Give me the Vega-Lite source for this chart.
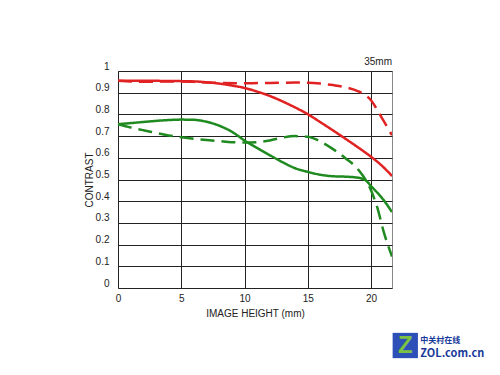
{
  "$schema": "https://vega.github.io/schema/vega-lite/v6.json",
  "width": 274,
  "height": 217,
  "autosize": "none",
  "padding": {"left": 118, "top": 71, "right": 108, "bottom": 87},
  "background": "white",
  "config": {
    "view": {"stroke": "#888888", "strokeWidth": 1},
    "font": "Liberation Sans",
    "axis": {"labelFont": "Liberation Sans", "titleFont": "Liberation Sans", "labelColor": "#222", "titleColor": "#222", "labelFontSize": 10, "titleFontSize": 10, "titleFontWeight": "normal", "grid": true, "gridColor": "#222", "gridOpacity": 1, "gridWidth": 1, "ticks": false, "domain": false, "labelFlush": false, "labelOverlap": false},
    "axisX": {"labelPadding": 5, "titlePadding": 5},
    "axisY": {"labelPadding": 9, "labelBaseline": "bottom", "titlePadding": 1}
  },
  "title": {"text": "35mm", "anchor": "end", "frame": "group", "fontSize": 10, "fontWeight": "normal", "color": "#222", "offset": -6, "font": "Liberation Sans"},
  "layer": [
    {
      "data": {"values": [
        {"curve": "R-S", "x": 0, "y": 0.955}, {"curve": "R-S", "x": 2, "y": 0.955}, {"curve": "R-S", "x": 4, "y": 0.954}, {"curve": "R-S", "x": 6, "y": 0.952}, {"curve": "R-S", "x": 7, "y": 0.948}, {"curve": "R-S", "x": 8, "y": 0.942}, {"curve": "R-S", "x": 9, "y": 0.933}, {"curve": "R-S", "x": 10, "y": 0.922}, {"curve": "R-S", "x": 11, "y": 0.905}, {"curve": "R-S", "x": 12, "y": 0.885}, {"curve": "R-S", "x": 13, "y": 0.86}, {"curve": "R-S", "x": 14, "y": 0.832}, {"curve": "R-S", "x": 15, "y": 0.801}, {"curve": "R-S", "x": 16, "y": 0.764}, {"curve": "R-S", "x": 17, "y": 0.726}, {"curve": "R-S", "x": 18, "y": 0.687}, {"curve": "R-S", "x": 19, "y": 0.647}, {"curve": "R-S", "x": 20, "y": 0.605}, {"curve": "R-S", "x": 21, "y": 0.556}, {"curve": "R-S", "x": 21.66, "y": 0.516},
        {"curve": "R-M", "x": 0, "y": 0.955}, {"curve": "R-M", "x": 1, "y": 0.952}, {"curve": "R-M", "x": 2, "y": 0.95}, {"curve": "R-M", "x": 3, "y": 0.951}, {"curve": "R-M", "x": 4, "y": 0.952}, {"curve": "R-M", "x": 5, "y": 0.952}, {"curve": "R-M", "x": 6, "y": 0.95}, {"curve": "R-M", "x": 7, "y": 0.947}, {"curve": "R-M", "x": 8, "y": 0.945}, {"curve": "R-M", "x": 10, "y": 0.944}, {"curve": "R-M", "x": 12, "y": 0.945}, {"curve": "R-M", "x": 13, "y": 0.946}, {"curve": "R-M", "x": 14, "y": 0.947}, {"curve": "R-M", "x": 15, "y": 0.946}, {"curve": "R-M", "x": 16, "y": 0.942}, {"curve": "R-M", "x": 17, "y": 0.935}, {"curve": "R-M", "x": 18, "y": 0.925}, {"curve": "R-M", "x": 19, "y": 0.906}, {"curve": "R-M", "x": 19.5, "y": 0.89}, {"curve": "R-M", "x": 20, "y": 0.865}, {"curve": "R-M", "x": 20.5, "y": 0.82}, {"curve": "R-M", "x": 21, "y": 0.77}, {"curve": "R-M", "x": 21.66, "y": 0.704},
        {"curve": "G-S", "x": 0, "y": 0.755}, {"curve": "G-S", "x": 1, "y": 0.76}, {"curve": "G-S", "x": 2, "y": 0.765}, {"curve": "G-S", "x": 3, "y": 0.77}, {"curve": "G-S", "x": 4, "y": 0.774}, {"curve": "G-S", "x": 5, "y": 0.776}, {"curve": "G-S", "x": 6, "y": 0.775}, {"curve": "G-S", "x": 7, "y": 0.766}, {"curve": "G-S", "x": 8, "y": 0.748}, {"curve": "G-S", "x": 9, "y": 0.72}, {"curve": "G-S", "x": 10, "y": 0.68}, {"curve": "G-S", "x": 11, "y": 0.645}, {"curve": "G-S", "x": 12, "y": 0.612}, {"curve": "G-S", "x": 13, "y": 0.58}, {"curve": "G-S", "x": 14, "y": 0.552}, {"curve": "G-S", "x": 15, "y": 0.535}, {"curve": "G-S", "x": 16, "y": 0.522}, {"curve": "G-S", "x": 17, "y": 0.515}, {"curve": "G-S", "x": 18, "y": 0.513}, {"curve": "G-S", "x": 19, "y": 0.508}, {"curve": "G-S", "x": 19.6, "y": 0.495}, {"curve": "G-S", "x": 20, "y": 0.47}, {"curve": "G-S", "x": 21, "y": 0.405}, {"curve": "G-S", "x": 21.66, "y": 0.35},
        {"curve": "G-M", "x": 0, "y": 0.755}, {"curve": "G-M", "x": 1, "y": 0.74}, {"curve": "G-M", "x": 2, "y": 0.727}, {"curve": "G-M", "x": 3, "y": 0.715}, {"curve": "G-M", "x": 4, "y": 0.703}, {"curve": "G-M", "x": 5, "y": 0.695}, {"curve": "G-M", "x": 6, "y": 0.688}, {"curve": "G-M", "x": 7, "y": 0.682}, {"curve": "G-M", "x": 8, "y": 0.677}, {"curve": "G-M", "x": 9, "y": 0.672}, {"curve": "G-M", "x": 10, "y": 0.67}, {"curve": "G-M", "x": 11, "y": 0.672}, {"curve": "G-M", "x": 12, "y": 0.68}, {"curve": "G-M", "x": 13, "y": 0.693}, {"curve": "G-M", "x": 14, "y": 0.7}, {"curve": "G-M", "x": 15, "y": 0.697}, {"curve": "G-M", "x": 16, "y": 0.675}, {"curve": "G-M", "x": 17, "y": 0.64}, {"curve": "G-M", "x": 18, "y": 0.597}, {"curve": "G-M", "x": 19, "y": 0.545}, {"curve": "G-M", "x": 20, "y": 0.45}, {"curve": "G-M", "x": 20.5, "y": 0.37}, {"curve": "G-M", "x": 21, "y": 0.26}, {"curve": "G-M", "x": 21.66, "y": 0.145}
      ]},
      "mark": {"type": "line", "strokeWidth": 2.5, "interpolate": "monotone", "clip": true},
      "encoding": {
        "x": {"field": "x", "type": "quantitative", "scale": {"domain": [0, 21.66], "nice": false, "zero": false},
          "axis": {"values": [0, 5, 10, 15, 20], "title": "IMAGE HEIGHT (mm)"}},
        "y": {"field": "y", "type": "quantitative", "scale": {"domain": [0, 1], "nice": false},
          "axis": {"values": [0, 0.1, 0.2, 0.3, 0.4, 0.5, 0.6, 0.7, 0.8, 0.9, 1], "format": "~g", "title": "CONTRAST"}},
        "color": {"field": "curve", "type": "nominal", "scale": {"domain": ["R-S", "R-M", "G-S", "G-M"], "range": ["#e02222", "#e02222", "#1f8a1f", "#1f8a1f"]}, "legend": null},
        "strokeDash": {"field": "curve", "type": "nominal", "scale": {"domain": ["R-S", "R-M", "G-S", "G-M"], "range": [[1, 0], [14, 7], [1, 0], [14, 7]]}, "legend": null}
      }
    },
    {
      "data": {"values": [{"x": 22.71, "y": -0.265}]},
      "mark": {"type": "square", "filled": true, "color": "#2d4fb8", "size": 640, "opacity": 1, "clip": false},
      "encoding": {
        "x": {"field": "x", "type": "quantitative", "axis": {"values": [0, 5, 10, 15, 20], "title": "IMAGE HEIGHT (mm)"}},
        "y": {"field": "y", "type": "quantitative", "axis": {"values": [0, 0.1, 0.2, 0.3, 0.4, 0.5, 0.6, 0.7, 0.8, 0.9, 1], "format": "~g", "title": "CONTRAST"}}
      }
    },
    {
      "data": {"values": [{"label": "Z", "x": 22.71, "y": -0.265}]},
      "mark": {"type": "text", "align": "center", "baseline": "middle", "fontWeight": "bold", "fontSize": 24, "color": "#7cc242", "clip": false, "font": "Liberation Sans"},
      "encoding": {
        "x": {"field": "x", "type": "quantitative", "axis": {"values": [0, 5, 10, 15, 20], "title": "IMAGE HEIGHT (mm)"}},
        "y": {"field": "y", "type": "quantitative", "axis": {"values": [0, 0.1, 0.2, 0.3, 0.4, 0.5, 0.6, 0.7, 0.8, 0.9, 1], "format": "~g", "title": "CONTRAST"}},
        "text": {"field": "label"}
      }
    },
    {
      "data": {"values": [
        {"label": "中关村在线", "x": 23.9, "y": -0.243, "size": 8, "color": "#1a3a9a"},
        {"label": "ZOL.com.cn", "x": 23.9, "y": -0.302, "size": 11, "color": "#1a3a9a"}
      ]},
      "mark": {"type": "text", "align": "left", "baseline": "middle", "fontWeight": "bold", "clip": false, "font": "Noto Sans CJK SC"},
      "encoding": {
        "x": {"field": "x", "type": "quantitative", "axis": {"values": [0, 5, 10, 15, 20], "title": "IMAGE HEIGHT (mm)"}},
        "y": {"field": "y", "type": "quantitative", "axis": {"values": [0, 0.1, 0.2, 0.3, 0.4, 0.5, 0.6, 0.7, 0.8, 0.9, 1], "format": "~g", "title": "CONTRAST"}},
        "text": {"field": "label"},
        "size": {"field": "size", "type": "quantitative", "scale": null},
        "color": {"field": "color", "type": "nominal", "scale": null}
      }
    }
  ]
}
